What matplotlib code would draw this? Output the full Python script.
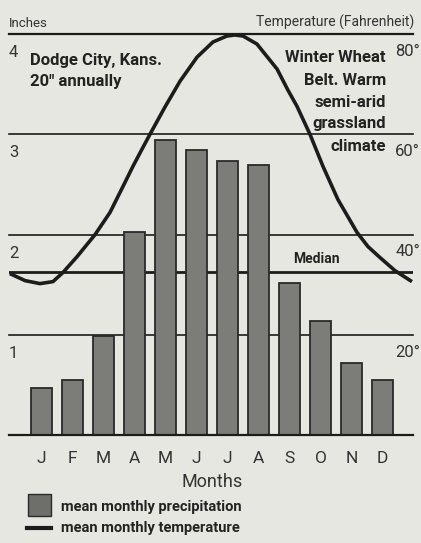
import matplotlib
matplotlib.use("Agg")
import matplotlib.pyplot as plt
from matplotlib.patches import Rectangle
from matplotlib.lines import Line2D

plt.rcParams['font.family'] = ['Roboto', 'DejaVu Sans']

# mean monthly precipitation (inches)
months = ['J', 'F', 'M', 'A', 'M', 'J', 'J', 'A', 'S', 'O', 'N', 'D']
precip = [0.47, 0.55, 0.99, 2.02, 2.94, 2.84, 2.73, 2.69, 1.52, 1.14, 0.72, 0.55]
median = 1.63

# mean monthly temperature curve (deg F)
temp_x = [-1.02, -0.53, -0.05, 0.37, 0.69, 1.15, 1.73, 2.21, 2.63, 2.95, 3.24,
          3.50, 3.98, 4.47, 5.02, 5.53, 5.98, 6.24, 6.50, 6.95, 7.47, 7.60,
          7.95, 8.24, 8.66, 9.08, 9.56, 10.18, 10.53, 10.92, 11.40, 11.95]
temp_f = [32.2, 30.8, 30.2, 30.6, 32.4, 35.6, 40.0, 44.4, 49.6, 53.6, 57.0,
          60.0, 65.4, 70.6, 75.4, 78.4, 79.6, 79.8, 79.6, 78.0, 74.0, 73.0,
          68.8, 65.6, 60.0, 53.6, 47.0, 40.4, 37.6, 35.4, 32.8, 30.6]

inch_ticks = [1, 2, 3, 4]
temp_ticks = [20, 40, 60, 80]

W, H = 421, 543
bg = '#e7e7e1'
ink = '#1c1c1c'
soft = '#333333'


def fx(x):
    return x / W


def fy(y):
    return 1 - y / H


fig = plt.figure(figsize=(W / 100, H / 100), dpi=100, facecolor=bg)
ax = fig.add_axes([fx(9), fy(435), 404 / W, 401 / H])
ax.set_facecolor(bg)
ax.set_xlim(-1.048, 11.984)
ax.set_ylim(0, 4)
for s in ax.spines.values():
    s.set_visible(False)
ax.set_xticks([])
ax.set_yticks([])

# grid lines
for v in inch_ticks:
    ax.axhline(v, color=ink, lw=1.6 if v == 4 else 1.2, zorder=1, clip_on=False)
ax.axhline(0, color=ink, lw=1.6, zorder=4, clip_on=False)
ax.axhline(median, color=ink, lw=2.0, zorder=1)

# bars
ax.bar(range(12), precip, width=0.68, color='#7c7c79', edgecolor='#2a2a2a',
       linewidth=1.3, zorder=2)

# temperature on a twin scale (20 deg F per inch)
ax2 = ax.twinx()
ax2.set_ylim(0, 80)
ax2.set_yticks([])
for s in ax2.spines.values():
    s.set_visible(False)
ax2.plot(temp_x, temp_f, color=ink, lw=2.6, solid_joinstyle='round',
         solid_capstyle='butt', clip_on=False, zorder=5)

# axis numbers, set just under each grid line
for v in inch_ticks:
    fig.text(fx(9), fy(435 - v * 100.25 + 23), str(v), ha='left',
             va='baseline', fontsize=12, color=soft)
for v in temp_ticks:
    fig.text(fx(420), fy(435 - v * 5.0125 + 22), f'{v}°', ha='right',
             va='baseline', fontsize=12, color=soft)

fig.text(fx(9), fy(27), 'Inches', ha='left', va='baseline', fontsize=9.5,
         color=soft)
fig.text(fx(414), fy(27), 'Temperature (Fahrenheit)', ha='right',
         va='baseline', fontsize=10, color=soft)

bold = dict(fontsize=12, fontweight='bold', color='#222222', va='baseline')
fig.text(fx(30), fy(65), 'Dodge City, Kans.', ha='left', **bold)
fig.text(fx(30), fy(86), '20″ annually', ha='left', **bold)
right_lines = ['Winter Wheat', 'Belt. Warm', 'semi-arid', 'grassland', 'climate']
right_base = [62, 85, 107, 128, 151]
for t, b in zip(right_lines, right_base):
    fig.text(fx(386), fy(b), t, ha='right', **bold)
fig.text(fx(316), fy(263), 'Median', ha='center', fontsize=10,
         fontweight='bold', color='#222222', va='baseline')

# month labels
for i, m in enumerate(months):
    x = ax.transData.transform((i, 0))[0]
    fig.text(x / W, fy(463), m, ha='center', va='baseline', fontsize=12.5,
             color=soft)
fig.text(fx(212), fy(487), 'Months', ha='center', va='baseline', fontsize=13,
         color=soft)

# legend
fig.add_artist(Rectangle((fx(28), fy(516)), 23 / W, 22 / H,
                         transform=fig.transFigure, facecolor='#6e6e6b',
                         edgecolor='#2a2a2a', lw=1.0))
fig.add_artist(Line2D([fx(27), fx(51)], [fy(528), fy(528)],
                      transform=fig.transFigure, color=ink, lw=3))
fig.text(fx(61), fy(511), 'mean monthly precipitation', ha='left',
         va='baseline', fontsize=10.5, fontweight='bold', color='#222222')
fig.text(fx(61), fy(532), 'mean monthly temperature', ha='left',
         va='baseline', fontsize=10.5, fontweight='bold', color='#222222')

fig.savefig('out.png', dpi=100, facecolor=bg)
